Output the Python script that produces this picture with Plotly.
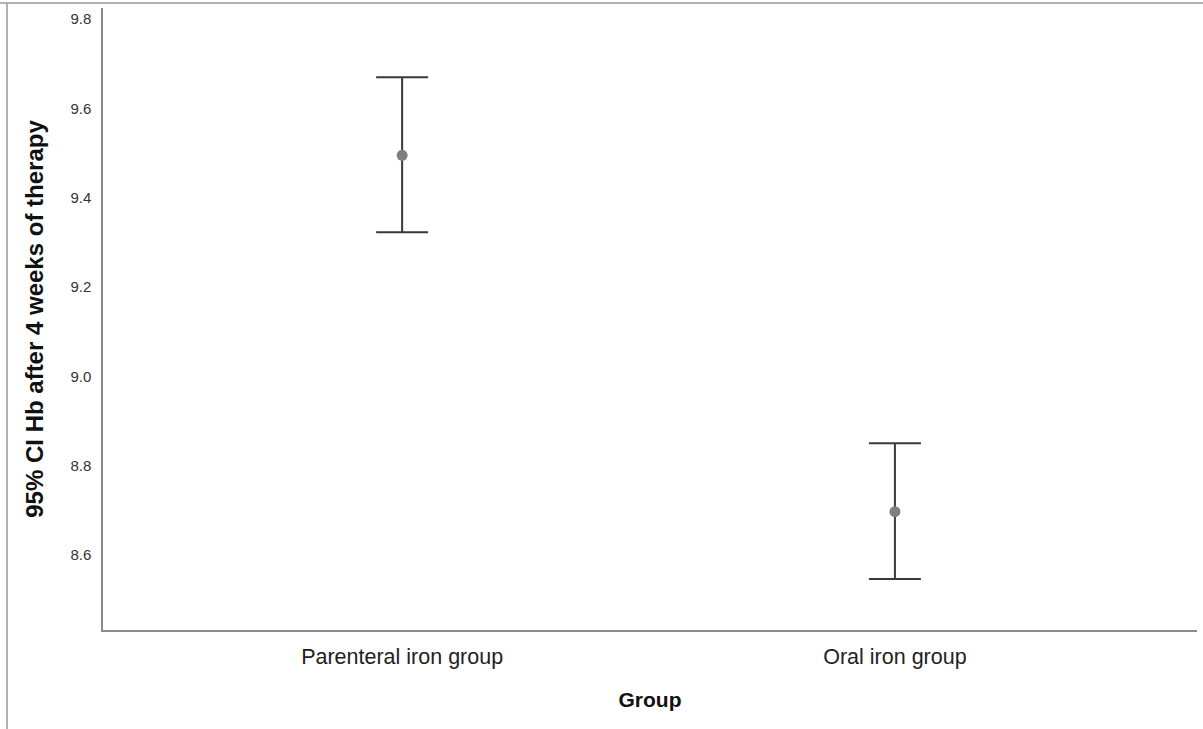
import plotly.graph_objects as go

groups = ["Parenteral iron group", "Oral iron group"]
means = [9.495, 8.697]
lower = [9.323, 8.546]
upper = [9.670, 8.850]
y_ticks = [8.6, 8.8, 9.0, 9.2, 9.4, 9.6, 9.8]

err_plus = [u - m for u, m in zip(upper, means)]
err_minus = [m - l for m, l in zip(means, lower)]

fig = go.Figure()
fig.add_trace(go.Scatter(
    x=groups, y=means, mode="markers",
    marker=dict(color="#7f7f7f", size=11),
    error_y=dict(type="data", symmetric=False, array=err_plus, arrayminus=err_minus,
                 color="#3a3a3a", thickness=2, width=26),
    showlegend=False,
))

W, H = 1203, 729
L, R, T, B = 103, 6, 8, 99
pw, ph = W - L - R, H - T - B

def px(x):
    return (x - L) / pw

def py(y):
    return (H - B - y) / ph

fig.update_layout(
    width=W, height=H,
    margin=dict(l=L, r=R, t=T, b=B),
    plot_bgcolor="white", paper_bgcolor="white",
    font=dict(family="Liberation Sans, Arial, sans-serif", color="#222"),
    xaxis=dict(
        range=[-0.607, 1.613], showgrid=False, zeroline=False,
        showline=True, linecolor="#8a8a8a", linewidth=1.5,
        ticks="", tickfont=dict(size=21.5, color="#222"), ticklabelstandoff=6,
        title=dict(text="<b>Group</b>", font=dict(size=21, color="#111"), standoff=25),
    ),
    yaxis=dict(
        range=[8.432, 9.825], showgrid=False, zeroline=False,
        showline=True, linecolor="#8a8a8a", linewidth=1.5,
        tickvals=y_ticks, tickformat=".1f", ticks="",
        tickfont=dict(size=15, color="#333"), ticklabelstandoff=7,
        title=dict(text="<b>95% CI Hb after 4 weeks of therapy</b>",
                   font=dict(size=24, color="#111"), standoff=20),
    ),
    shapes=[
        dict(type="line", xref="paper", yref="paper", x0=px(0), x1=px(W), y0=py(3), y1=py(3),
             line=dict(color="#9a9a9a", width=1.5)),
        dict(type="line", xref="paper", yref="paper", x0=px(7), x1=px(7), y0=py(3), y1=py(H),
             line=dict(color="#9a9a9a", width=1.5)),
    ],
)

fig.write_html("out.html", config={"displayModeBar": False},
               post_script="document.body.style.margin='0';")
